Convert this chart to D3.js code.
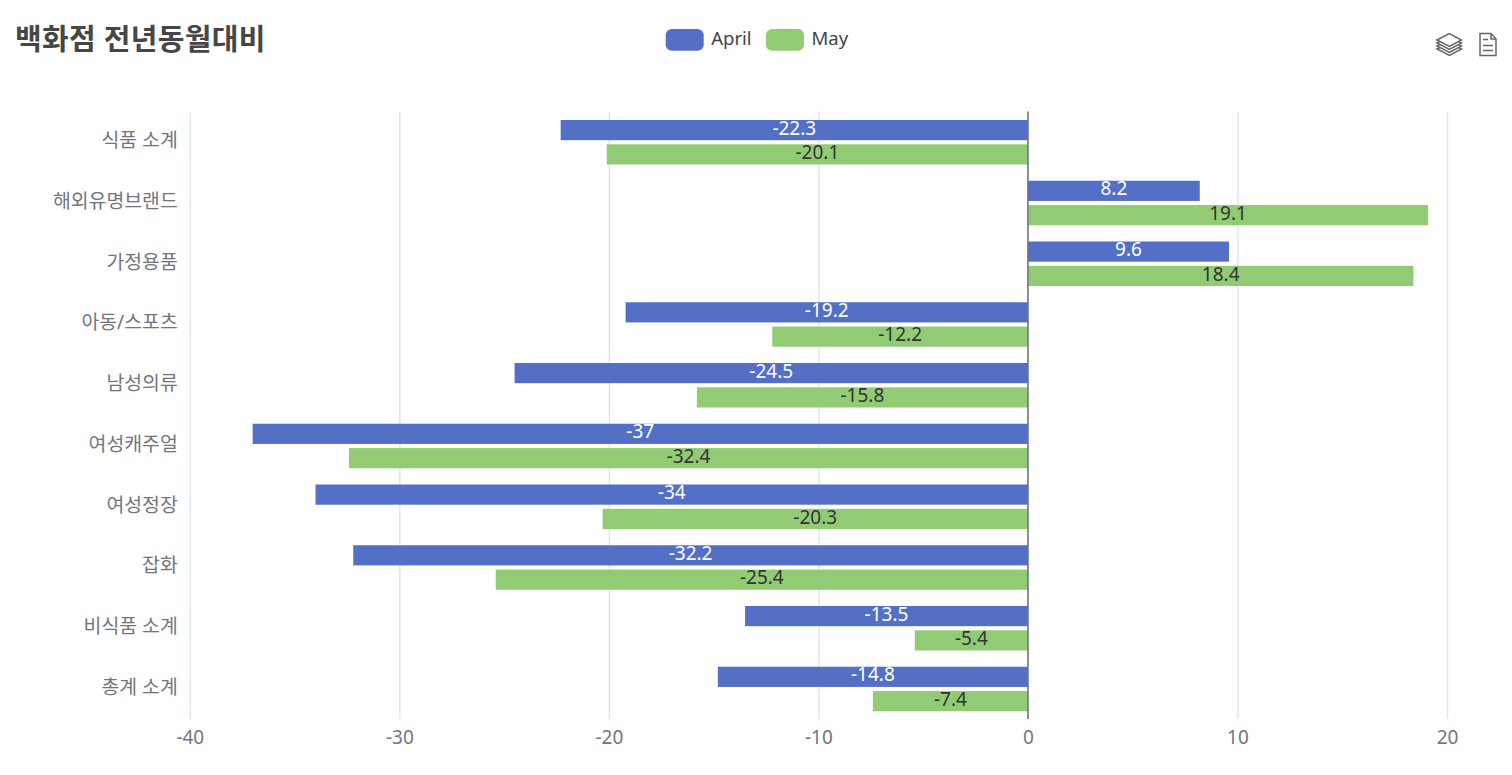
<!DOCTYPE html>
<html>
<head>
<meta charset="utf-8">
<script src="https://cdn.jsdelivr.net/npm/d3@7"></script>
<style>
  html, body { margin: 0; padding: 0; background: #fff; overflow: hidden; }
  text { font-family: "Noto Sans", "Noto Sans CJK KR", sans-serif; }
</style>
</head>
<body>
<script>
const categories = ["식품 소계", "해외유명브랜드", "가정용품", "아동/스포츠", "남성의류", "여성캐주얼", "여성정장", "잡화", "비식품 소계", "총계 소계"];
const april = [-22.3, 8.2, 9.6, -19.2, -24.5, -37, -34, -32.2, -13.5, -14.8];
const may = [-20.1, 19.1, 18.4, -12.2, -15.8, -32.4, -20.3, -25.4, -5.4, -7.4];
const xTicks = [-40, -30, -20, -10, 0, 10, 20];
const seriesNames = ["April", "May"];
const seriesColors = ["#5470c6", "#91cc75"];

const w = 1512, h = 775;
const top_ = 111.5, bottom = 719;

const svg = d3.select("body").append("svg")
  .attr("width", w)
  .attr("height", h)
  .style("display", "block");

const x = d3.scaleLinear().domain([-40, 20]).range([189.8, 1447]);
const y = d3.scaleBand().domain(categories).range([top_, bottom]);
const inner = d3.scaleBand().domain(seriesNames).range([8.5, 53]).paddingInner(0.17);

// title
svg.append("text")
  .attr("x", 15)
  .attr("y", 50)
  .attr("font-size", 29)
  .attr("font-weight", 700)
  .attr("letter-spacing", 0.3)
  .attr("fill", "#464646")
  .text("백화점 전년동월대비");

// x axis, grid lines come from the ticks
const xAxis = d3.axisBottom(x).tickValues(xTicks).tickSize(-(bottom - top_)).tickPadding(11.5).tickFormat(d => d);
const gx = svg.append("g")
  .attr("transform", "translate(0," + bottom + ")")
  .call(xAxis);
gx.select(".domain").remove();
gx.selectAll("line").attr("stroke", "#e0e6f1").attr("stroke-width", 1.5);
gx.selectAll("text").attr("font-size", 19).attr("fill", "#73757e");

// bars
const series = [april, may];
series.forEach((vals, s) => {
  const name = seriesNames[s];
  svg.append("g").selectAll("rect")
    .data(vals)
    .enter()
    .append("rect")
    .attr("x", d => Math.min(x(d), x(0)))
    .attr("y", (d, i) => y(categories[i]) + inner(name))
    .attr("width", d => Math.abs(x(d) - x(0)))
    .attr("height", inner.bandwidth())
    .attr("fill", seriesColors[s]);
});

// zero line on top of the bars
svg.append("line")
  .attr("x1", x(0)).attr("x2", x(0))
  .attr("y1", top_).attr("y2", bottom)
  .attr("stroke", "#6e7079")
  .attr("stroke-width", 1.5);

// value labels
series.forEach((vals, s) => {
  const name = seriesNames[s];
  svg.append("g").selectAll("text")
    .data(vals)
    .enter()
    .append("text")
    .attr("x", d => (x(d) + x(0)) / 2)
    .attr("y", (d, i) => y(categories[i]) + inner(name) + inner.bandwidth() / 2 - 2)
    .attr("dy", "0.35em")
    .attr("text-anchor", "middle")
    .attr("font-size", 19)
    .attr("fill", s == 0 ? "#fff" : "#333")
    .text(d => d);
});

// category labels
const gy = svg.append("g")
  .attr("transform", "translate(" + x(-40) + ",-1)")
  .call(d3.axisLeft(y).tickSize(0).tickPadding(12));
gy.select(".domain").remove();
gy.selectAll("text").attr("font-size", 19.4).attr("fill", "#73757e");

// legend
const legendX = [665.7, 766];
seriesNames.forEach((name, i) => {
  svg.append("rect")
    .attr("x", legendX[i])
    .attr("y", 29)
    .attr("width", 38)
    .attr("height", 21.7)
    .attr("rx", 6)
    .attr("fill", seriesColors[i]);
  svg.append("text")
    .attr("x", legendX[i] + 45.5)
    .attr("y", 45)
    .attr("font-size", 18.5)
    .attr("fill", "#444")
    .text(name);
});

// toolbox icons
const icons = svg.append("g").attr("fill", "none").attr("stroke", "#666").attr("stroke-width", 1.5);
const stack = icons.append("g");
[9, 6, 3, 0].forEach(o => {
  stack.append("path")
    .attr("d", "M1437 " + (40 + o) + "L1449.3 " + (33.5 + o) + "L1461.5 " + (40 + o) + "L1449.3 " + (46.5 + o) + "Z")
    .attr("fill", "#fff");
});
icons.append("path").attr("d", "M1480 33.5H1491L1496 39V55.5H1480Z");
icons.append("path").attr("d", "M1491 33.5V39H1496M1483 39.5H1488M1483 45.5H1493M1483 50.5H1493");
</script>
</body>
</html>
